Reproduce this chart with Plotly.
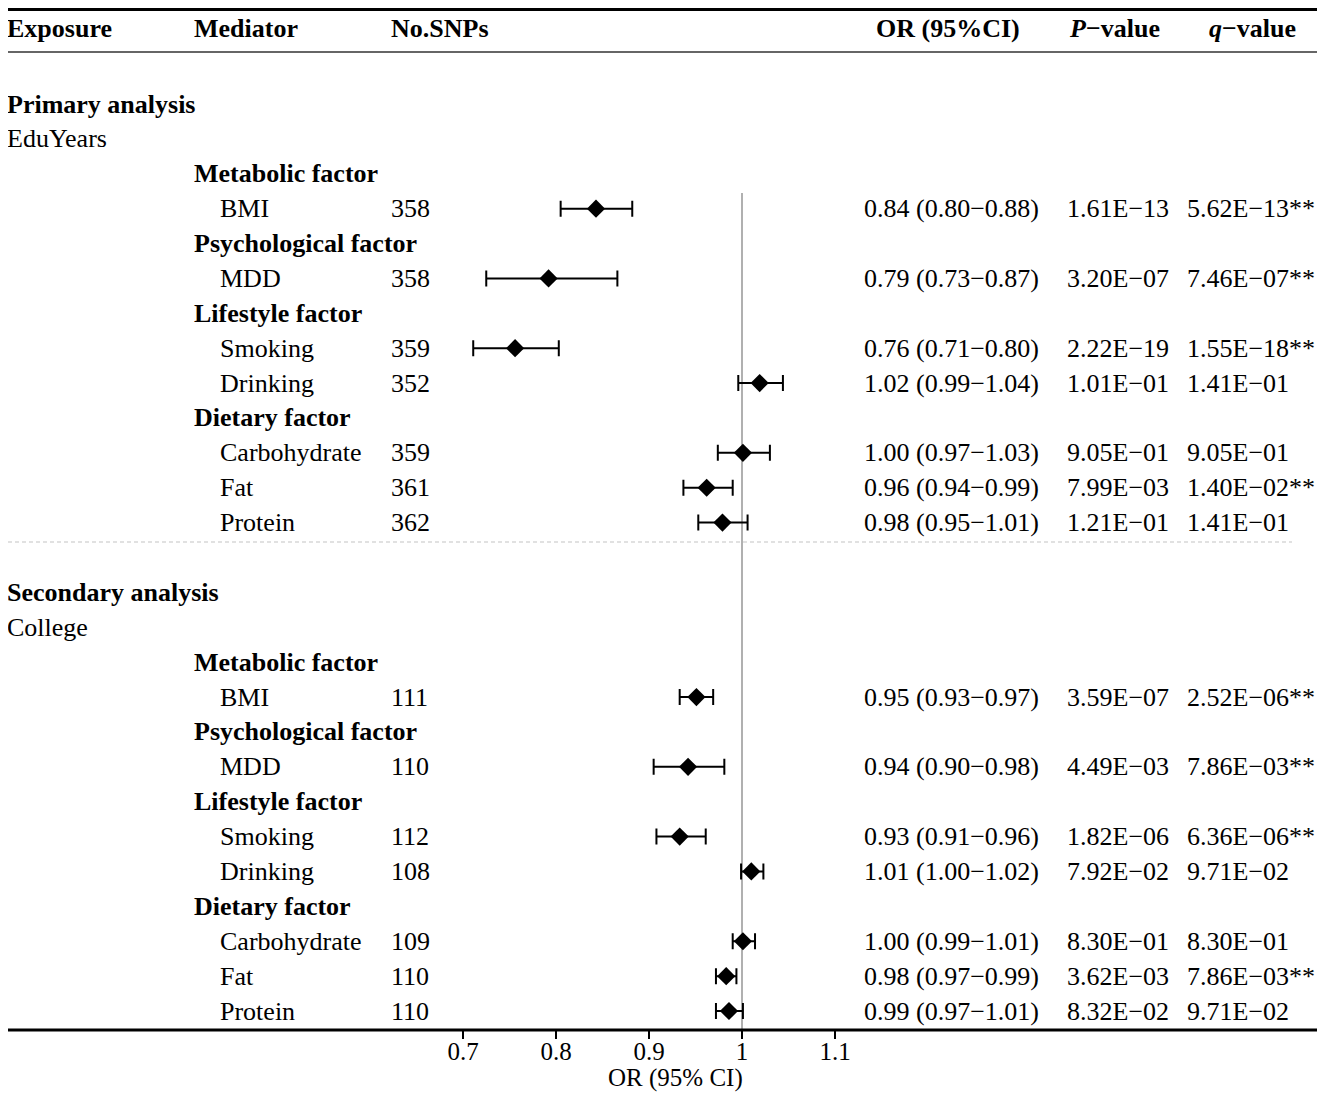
import plotly.graph_objects as go

# ---- data ----
sections = ["Primary analysis", "Secondary analysis"]
exposures = ["EduYears", "College"]
factors = ["Metabolic factor", "Psychological factor", "Lifestyle factor", "Dietary factor"]
mediators = [["BMI"], ["MDD"], ["Smoking", "Drinking"], ["Carbohydrate", "Fat", "Protein"]]

snps_primary = [358, 358, 359, 352, 359, 361, 362]
or_primary = [0.843, 0.792, 0.756, 1.019, 1.001, 0.962, 0.979]
lo_primary = [0.805, 0.725, 0.711, 0.996, 0.974, 0.937, 0.953]
hi_primary = [0.882, 0.866, 0.803, 1.044, 1.030, 0.990, 1.006]
orci_primary = ["0.84 (0.80−0.88)", "0.79 (0.73−0.87)", "0.76 (0.71−0.80)", "1.02 (0.99−1.04)",
                "1.00 (0.97−1.03)", "0.96 (0.94−0.99)", "0.98 (0.95−1.01)"]
p_primary = ["1.61E−13", "3.20E−07", "2.22E−19", "1.01E−01", "9.05E−01", "7.99E−03", "1.21E−01"]
q_primary = ["5.62E−13**", "7.46E−07**", "1.55E−18**", "1.41E−01", "9.05E−01", "1.40E−02**", "1.41E−01"]

snps_secondary = [111, 110, 112, 108, 109, 110, 110]
or_secondary = [0.951, 0.942, 0.933, 1.010, 1.001, 0.983, 0.986]
lo_secondary = [0.933, 0.905, 0.908, 0.999, 0.990, 0.972, 0.972]
hi_secondary = [0.969, 0.981, 0.961, 1.023, 1.014, 0.994, 1.001]
orci_secondary = ["0.95 (0.93−0.97)", "0.94 (0.90−0.98)", "0.93 (0.91−0.96)", "1.01 (1.00−1.02)",
                  "1.00 (0.99−1.01)", "0.98 (0.97−0.99)", "0.99 (0.97−1.01)"]
p_secondary = ["3.59E−07", "4.49E−03", "1.82E−06", "7.92E−02", "8.30E−01", "3.62E−03", "8.32E−02"]
q_secondary = ["2.52E−06**", "7.86E−03**", "6.36E−06**", "9.71E−02", "8.30E−01", "7.86E−03**", "9.71E−02"]

x_ticks = [0.7, 0.8, 0.9, 1, 1.1]
x_tick_text = ["0.7", "0.8", "0.9", "1", "1.1"]

# ---- layout (page pixels; the page body has an 8px margin) ----
OFF = 8
W, H = 1325 - 2 * OFF, 1100 - 2 * OFF
AXIS_Y = 1030                 # page y of the x-axis line
PLOT_H = AXIS_Y - OFF         # plot area height in figure px
MB = H - PLOT_H
FONT = "Liberation Serif, Times New Roman, serif"
FS = 26
ROW0, ROW_H = 104, 34.885     # page y of row 1, row height
X07, PX_PER = 463, 930.0      # page x of OR=0.7, px per OR unit
col_exp, col_fac, col_med, col_snp = 5, 192, 218, 389
col_or, col_p, col_q = 862, 1065, 1185


def px(x):
    return (x - OFF) / W


def py(page_y):
    # page y -> paper y
    return (AXIS_Y - page_y) / PLOT_H


def row_of(page_y):
    return 1 + (page_y - ROW0) / ROW_H


annotations = []


def add_text(x, y, text, anchor="left", size=FS):
    annotations.append(dict(x=px(x), y=y, xref="paper", yref="y", text=text,
                            showarrow=False, xanchor=anchor, yanchor="middle",
                            font=dict(family=FONT, size=size, color="black")))


# header
hdr = row_of(28)
add_text(col_exp, hdr, "<b>Exposure</b>")
add_text(col_fac, hdr, "<b>Mediator</b>")
add_text(col_snp, hdr, "<b>No.SNPs</b>")
add_text(948, hdr, "<b>OR (95%CI)</b>", anchor="center")
add_text(1114, hdr, "<b><i>P</i>−value</b>", anchor="center")
add_text(1252, hdr, "<b><i>q</i>−value</b>", anchor="center")

fig = go.Figure()

all_data = [
    (snps_primary, or_primary, lo_primary, hi_primary, orci_primary, p_primary, q_primary),
    (snps_secondary, or_secondary, lo_secondary, hi_secondary, orci_secondary, p_secondary, q_secondary),
]

row = 1
for s, (snps, ors, los, his, orci, pv, qv) in enumerate(all_data):
    add_text(col_exp, row, "<b>%s</b>" % sections[s])
    add_text(col_exp, row + 1, exposures[s])
    row += 2
    k = 0
    ys = []
    for f, meds in enumerate(mediators):
        add_text(col_fac, row, "<b>%s</b>" % factors[f])
        row += 1
        for m in meds:
            add_text(col_med, row, m)
            add_text(col_snp, row, str(snps[k]))
            add_text(col_or, row, orci[k])
            add_text(col_p, row, pv[k])
            add_text(col_q, row, qv[k])
            ys.append(row)
            row += 1
            k += 1
    fig.add_trace(go.Scatter(
        x=ors, y=ys, mode="markers",
        marker=dict(symbol="diamond", size=14, color="black"),
        error_x=dict(type="data", symmetric=False,
                     array=[h - o for h, o in zip(his, ors)],
                     arrayminus=[o - l for o, l in zip(ors, los)],
                     color="black", thickness=2, width=8),
        showlegend=False, hoverinfo="skip",
    ))
    row += 1  # blank row between sections

y_top = row_of(OFF)
y_bot = row_of(AXIS_Y)
x_lo = 0.7 + (OFF - X07) / PX_PER
x_hi = 0.7 + (OFF + W - X07) / PX_PER


def hline(page_y, x0, x1, color, width, dash="solid"):
    return dict(type="line", xref="paper", yref="paper", x0=px(x0), x1=px(x1),
                y0=py(page_y), y1=py(page_y),
                line=dict(color=color, width=width, dash=dash))


shapes = [
    # reference line at OR = 1
    dict(type="line", xref="x", yref="paper", x0=1, x1=1, y0=py(193), y1=0,
         line=dict(color="#b0b0b0", width=2), layer="below"),
    hline(OFF + 1.5, OFF, 1320, "black", 3),           # top rule
    hline(52, OFF, 1320, "#333333", 1.5),               # header rule
    hline(542, OFF, 1292, "#c4c4c4", 1.2, "4px,3px"),   # separator
    hline(AXIS_Y, OFF, 1320, "black", 3),               # bottom rule
]

annotations.append(dict(x=px(675), y=py(1078), xref="paper", yref="paper",
                        text="OR (95% CI)", showarrow=False, xanchor="center", yanchor="middle",
                        font=dict(family=FONT, size=25, color="black")))

fig.update_layout(
    width=W, height=H,
    margin=dict(l=0, r=0, t=0, b=MB),
    paper_bgcolor="white", plot_bgcolor="white",
    font=dict(family=FONT, size=FS, color="black"),
    xaxis=dict(range=[x_lo, x_hi], tickvals=x_ticks, ticktext=x_tick_text,
               ticks="outside", ticklen=8, tickwidth=2, tickcolor="black",
               ticklabelstandoff=-9,
               showgrid=False, zeroline=False, showline=False,
               tickfont=dict(family=FONT, size=25, color="black")),
    yaxis=dict(range=[y_bot, y_top], visible=False, showgrid=False, zeroline=False),
    shapes=shapes,
    annotations=annotations,
)

fig.write_html("out.html")
